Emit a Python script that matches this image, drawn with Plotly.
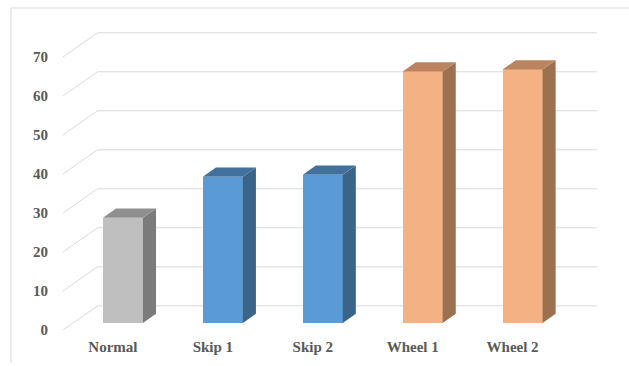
import plotly.graph_objects as go

categories = ["Normal", "Skip 1", "Skip 2", "Wheel 1", "Wheel 2"]
values = [27, 37.5, 38, 64.5, 65]
y_ticks = [0, 10, 20, 30, 40, 50, 60, 70]

front_colors = ["#BFBFBF", "#5B9BD5", "#5B9BD5", "#F4B183", "#F4B183"]
side_colors = ["#7B7B7B", "#3A6589", "#3A6589", "#9C7150", "#9C7150"]
top_colors = ["#8F8F8F", "#41719C", "#41719C", "#BA8461", "#BA8461"]

# 3D-look geometry (in axis units)
DEPTH_DX = 0.345      # full floor depth, x shift
DEPTH_DY = 6.2        # full floor depth, y shift
BAR_F0 = 0.29         # front face depth fraction
BAR_F1 = 0.67         # back face depth fraction
BAR_W = 0.4

fig = go.Figure()
n = len(categories)

# walls / gridlines (drawn below the traces)
shapes = []
for v in y_ticks:
    shapes.append(dict(
        type="path", xref="x", yref="y", layer="below",
        path="M %g,%g L %g,%g L %g,%g" % (
            -0.5, v, -0.5 + DEPTH_DX, v + DEPTH_DY,
            n - 0.5 + DEPTH_DX, v + DEPTH_DY),
        line=dict(color="#D9D9D9", width=1)))

fx = BAR_F0 * DEPTH_DX
fy = BAR_F0 * DEPTH_DY
dx = (BAR_F1 - BAR_F0) * DEPTH_DX
dy = (BAR_F1 - BAR_F0) * DEPTH_DY

# front faces
fig.add_trace(go.Bar(
    x=[i + fx for i in range(n)], y=values, base=[fy] * n, width=BAR_W,
    marker=dict(color=front_colors, line=dict(width=0)),
    showlegend=False, hoverinfo="skip"))

for i, v in enumerate(values):
    xl = i + fx - BAR_W / 2
    xr = i + fx + BAR_W / 2
    b = fy
    t = fy + v
    # side face
    fig.add_trace(go.Scatter(
        x=[xr, xr + dx, xr + dx, xr, xr], y=[b, b + dy, t + dy, t, b],
        fill="toself", fillcolor=side_colors[i], mode="lines",
        line=dict(width=0, color=side_colors[i]),
        hoverinfo="skip", showlegend=False))
    # top face
    fig.add_trace(go.Scatter(
        x=[xl, xr, xr + dx, xl + dx, xl], y=[t, t, t + dy, t + dy, t],
        fill="toself", fillcolor=top_colors[i], mode="lines",
        line=dict(width=0, color=top_colors[i]),
        hoverinfo="skip", showlegend=False))

font = dict(family="Liberation Serif, Times New Roman, serif", size=15, color="#595959")

shapes.append(dict(type="path", xref="paper", yref="paper",
                   path="M 1.2,1.0733 L -0.0974,1.0733 L -0.0974,-0.11",
                   line=dict(color="#D9D9D9", width=1)))

fig.update_layout(
    width=629, height=366,
    margin=dict(l=63, r=32, t=30, b=36),
    paper_bgcolor="white", plot_bgcolor="white",
    font=font,
    xaxis=dict(range=[-0.5, n - 0.5 + DEPTH_DX], tickvals=list(range(n)),
               ticktext=["<b>%s</b>" % c for c in categories], tickfont=font,
               showgrid=False, zeroline=False, showline=False, ticks="",
               ticklabelstandoff=6, fixedrange=True),
    yaxis=dict(range=[0, 76.92], tickvals=y_ticks, tickfont=font,
               ticktext=["<b>%d</b>" % t for t in y_ticks],
               showgrid=False, zeroline=False, showline=False, ticks="",
               ticklabelstandoff=14, fixedrange=True),
    shapes=shapes,
    bargap=0,
)

fig.write_html("out.html")
